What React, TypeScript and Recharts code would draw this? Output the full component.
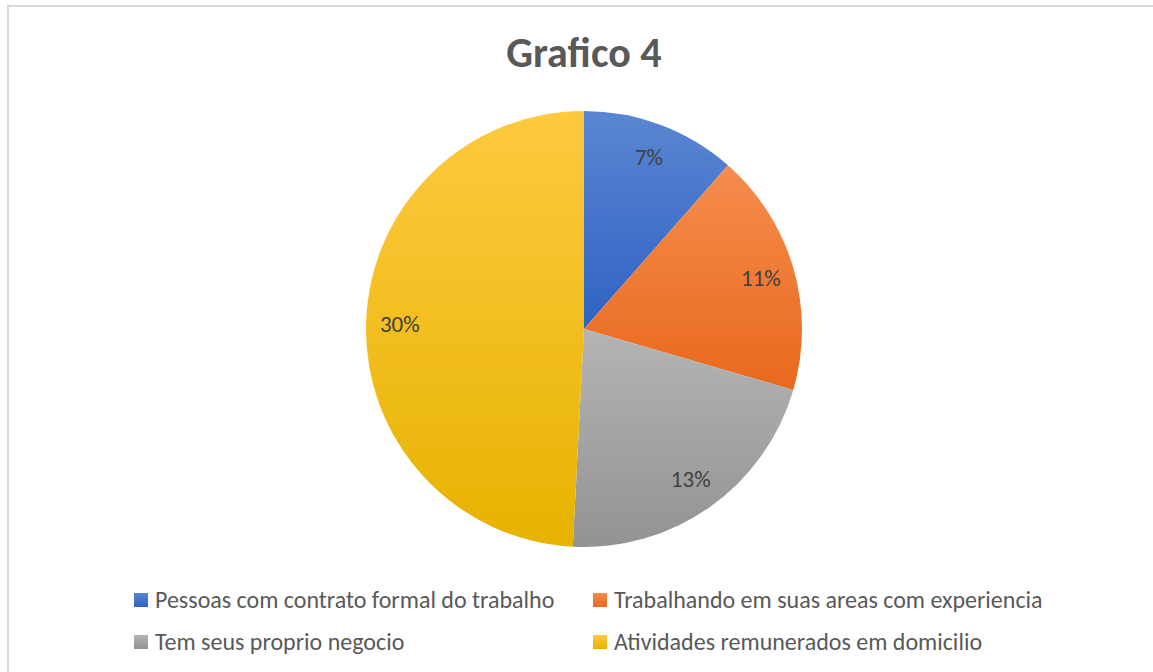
import { PieChart, Pie, Cell, Legend } from 'recharts'

const categories = [
  'Pessoas com contrato formal do trabalho',
  'Trabalhando em suas areas com experiencia',
  'Tem seus proprio negocio',
  'Atividades remunerados em domicilio'
]
const values = [7, 11, 13, 30]
const valueLabels = ['7%', '11%', '13%', '30%']

const gradients = [
  ['#5A86D2', '#2F62C3'],
  ['#F58C4E', '#E8691C'],
  ['#B4B4B4', '#939393'],
  ['#FFC940', '#E6B300']
]

const FONT = 'Carlito, Lato, "Open Sans", sans-serif'
const RAD = Math.PI / 180

const data = categories.map((name, i) => ({ name, value: values[i], label: valueLabels[i] }))

const renderLabel = (props: any) => {
  const { cx, cy, midAngle, outerRadius, index } = props
  const r = outerRadius * 0.845
  const x = cx + r * Math.cos(-midAngle * RAD)
  const y = cy + r * Math.sin(-midAngle * RAD)
  return (
    <text x={x} y={y} fill='#404040' fontSize={23} fontFamily={FONT}
      textAnchor='middle' dominantBaseline='central'>
      {data[index].label}
    </text>
  )
}

const LegendBox = () => (
  <div style={{ position: 'relative', width: 1153, height: 90, fontFamily: FONT, fontSize: 24, color: '#595959' }}>
    {data.map((d, i) => (
      <div key={d.name} style={{
        position: 'absolute',
        left: i % 2 === 0 ? 134 : 593,
        top: i < 2 ? 0 : 42,
        display: 'flex',
        alignItems: 'center',
        whiteSpace: 'nowrap'
      }}>
        <span style={{
          display: 'inline-block', width: 14, height: 14, marginRight: 7,
          background: `linear-gradient(${gradients[i][0]}, ${gradients[i][1]})`
        }} />
        {d.name}
      </div>
    ))}
  </div>
)

export default function App () {
  return (
    <div style={{ position: 'fixed', left: 0, top: 0, width: 1153, height: 672, background: '#fff', overflow: 'hidden' }}>
      <div style={{
        position: 'absolute', left: 7, top: 5, width: 1200, height: 720,
        border: '2px solid #D9D9D9', boxSizing: 'border-box'
      }} />
      <div style={{
        position: 'absolute', left: 0, top: 27, width: 1168, textAlign: 'center',
        fontFamily: FONT, fontWeight: 700, fontSize: 42, color: '#595959'
      }}>
        Grafico 4
      </div>
      <div style={{ position: 'absolute', left: 0, top: 0 }}>
        <PieChart width={1153} height={672} margin={{ top: 0, right: 0, bottom: 0, left: 0 }}>
          <defs>
            {gradients.map((g, i) => (
              <linearGradient key={i} id={`slice${i}`} x1='0' y1='0' x2='0' y2='1'>
                <stop offset='0%' stopColor={g[0]} />
                <stop offset='100%' stopColor={g[1]} />
              </linearGradient>
            ))}
          </defs>
          <Pie
            data={data}
            dataKey='value'
            nameKey='name'
            cx={584}
            cy={329}
            outerRadius={218}
            startAngle={90}
            endAngle={-270}
            stroke='none'
            label={renderLabel}
            labelLine={false}
            isAnimationActive={false}
          >
            {data.map((d, i) => (
              <Cell key={d.name} fill={`url(#slice${i})`} />
            ))}
          </Pie>
          <Legend
            content={() => <LegendBox />}
            wrapperStyle={{ left: 0, top: 585, width: 1153 }}
          />
        </PieChart>
      </div>
    </div>
  )
}
